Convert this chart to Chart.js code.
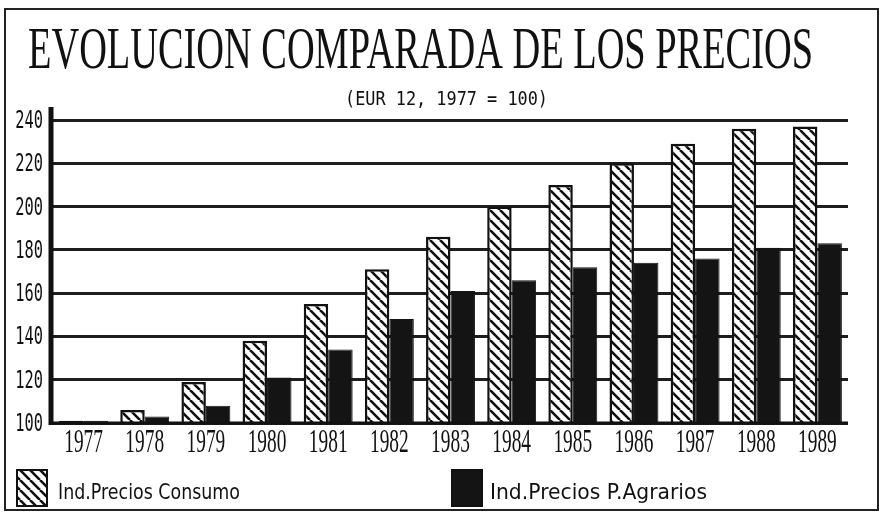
<!DOCTYPE html>
<html>
<head>
<meta charset="utf-8">
<script src="https://cdn.jsdelivr.net/npm/chart.js@4.4.1/dist/chart.umd.min.js"></script>
<style>
  html, body { margin: 0; padding: 0; background: #fff; }
  #wrap { width: 884px; height: 515px; }
</style>
</head>
<body>
<div id="wrap"><canvas id="preciosChart" width="884" height="515"></canvas></div>
<script>
// datos (EUR 12, 1977 = 100)
const years = ["1977", "1978", "1979", "1980", "1981", "1982", "1983", "1984", "1985", "1986", "1987", "1988", "1989"];
const consumo = [101, 106, 119, 138, 155, 171, 186, 200, 210, 220, 229, 236, 237];
const agrarios = [101, 103, 108, 121, 134, 148, 161, 166, 172, 174, 176, 181, 183];
const yMin = 100;
const yMax = 240;
const yStep = 20;

const titulo = "EVOLUCION COMPARADA DE LOS PRECIOS";
const subtitulo = "(EUR 12, 1977 = 100)";
const nombres = ["Ind.Precios Consumo", "Ind.Precios P.Agrarios"];

const canvas = document.getElementById("preciosChart");
const ctx = canvas.getContext("2d");

// trama rayada "\\\" para la serie de consumo
function rayado() {
    const c = document.createElement("canvas");
    c.width = 10; c.height = 10;
    const g = c.getContext("2d");
    g.fillStyle = "#fff";
    g.fillRect(0, 0, 10, 10);
    g.strokeStyle = "#111";
    g.lineWidth = 2.6;
    g.beginPath();
    for (const k of [-10, 0, 10]) { g.moveTo(k, 0); g.lineTo(k + 10, 10); }
    g.stroke();
    return ctx.createPattern(c, "repeat");
}

// texto estrechado horizontalmente (las fuentes del original son muy condensadas)
function texto(c, str, x, y, font, sx, align) {
    c.save();
    c.font = font;
    c.textBaseline = "alphabetic";
    c.fillStyle = "#111";
    const w = c.measureText(str).width * sx;
    let x0 = x;
    if (align === "center") x0 = x - w / 2;
    else if (align === "right") x0 = x - w;
    c.translate(x0, y);
    c.scale(sx, 1);
    c.fillText(str, 0, 0);
    c.restore();
}

function ajustado(c, str, x, y, font, ancho) {
    c.save();
    c.font = font;
    const sx = ancho / c.measureText(str).width;
    c.restore();
    texto(c, str, x, y, font, sx, "left");
}

const marco = {
    id: "marco",
    beforeDraw(chart) {
        const c = chart.ctx;
        c.save();
        c.fillStyle = "#fff";
        c.fillRect(0, 0, chart.width, chart.height);
        c.strokeStyle = "#222";
        c.lineWidth = 2;
        c.strokeRect(5, 9, 873, 501);
        c.restore();
    },
    afterDatasetsDraw(chart) {
        const c = chart.ctx;
        const a = chart.chartArea;
        c.save();
        c.strokeStyle = "#111";
        c.lineWidth = 5;
        c.beginPath();
        c.moveTo(a.left - 2, a.top - 13);
        c.lineTo(a.left - 2, a.bottom + 2);
        c.stroke();
        c.lineWidth = 3;
        c.beginPath();
        c.moveTo(a.left, a.bottom);
        c.lineTo(a.right, a.bottom);
        c.stroke();
        c.restore();
    },
    afterDraw(chart) {
        const c = chart.ctx;
        const xs = chart.scales.x;
        const ys = chart.scales.y;

        ajustado(c, titulo, 28, 68, '60px "Liberation Serif"', 785);
        ajustado(c, subtitulo, 345, 105, '19px "DejaVu Sans Mono"', 203);

        ys.ticks.forEach(t => {
            texto(c, String(t.value), 43, ys.getPixelForValue(t.value) + 8, '24px "DejaVu Sans Mono"', 0.64, "right");
        });
        years.forEach((y, i) => {
            texto(c, y, xs.getPixelForValue(i), 452, '34px "Liberation Serif"', 0.57, "center");
        });

        // leyenda
        const cajas = [{ x: 17, t: 58, w: 182 }, { x: 452, t: 490, w: 217 }];
        chart.data.datasets.forEach((ds, i) => {
            const b = cajas[i];
            c.save();
            c.fillStyle = ds.backgroundColor;
            c.fillRect(b.x, 470, 30, 36);
            c.strokeStyle = "#111";
            c.lineWidth = 2;
            c.strokeRect(b.x, 470, 30, 36);
            c.restore();
            ajustado(c, ds.label, b.t, 499, '21px "DejaVu Sans"', b.w);
        });
    }
};

window.myChart = new Chart(ctx, {
    type: "bar",
    data: {
        labels: years,
        datasets: [
            {
                label: nombres[0],
                data: consumo,
                backgroundColor: rayado(),
                borderColor: "#111",
                borderWidth: 2.5,
                borderSkipped: false
            },
            {
                label: nombres[1],
                data: agrarios,
                backgroundColor: "#141414",
                borderColor: "#141414",
                borderWidth: 1,
                borderSkipped: false
            }
        ]
    },
    options: {
        responsive: false,
        animation: false,
        layout: { padding: { left: 53, right: 36, top: 120, bottom: 92 } },
        datasets: { bar: { categoryPercentage: 0.8, barPercentage: 1.0 } },
        plugins: {
            legend: { display: false },
            title: { display: false },
            tooltip: { enabled: false }
        },
        scales: {
            x: {
                grid: { display: false },
                border: { display: false },
                ticks: { display: false },
                afterFit: s => { s.height = 0; }
            },
            y: {
                min: yMin,
                max: yMax,
                ticks: { stepSize: yStep, display: false },
                grid: { color: "#1e1e1e", lineWidth: 3, drawTicks: false },
                border: { display: false },
                afterFit: s => { s.width = 0; }
            }
        }
    },
    plugins: [marco]
});
</script>
</body>
</html>
